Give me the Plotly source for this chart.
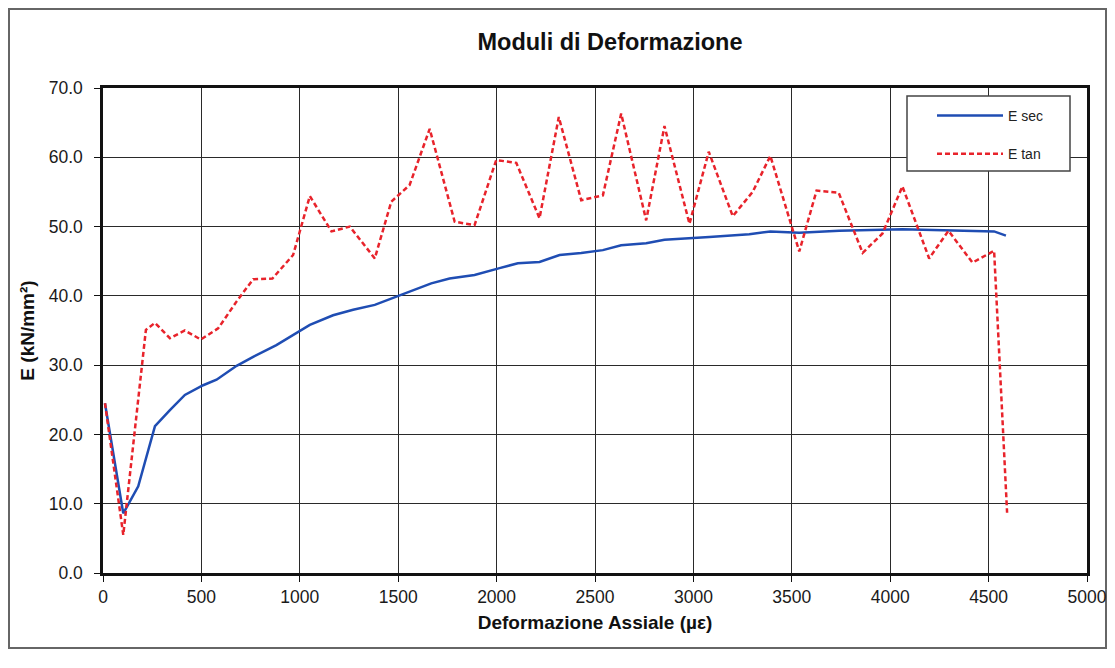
import plotly.graph_objects as go

# E tan (tangent modulus)
x_tan = [10, 103, 218, 264, 340, 416, 497, 585, 679, 763, 861, 966, 1051, 1161, 1254,
         1381, 1465, 1558, 1660, 1787, 1888, 1998, 2100, 2218, 2316, 2430, 2540, 2633,
         2760, 2853, 2980, 3078, 3200, 3301, 3391, 3538, 3626, 3738, 3860, 3961, 4062,
         4198, 4296, 4418, 4528, 4594]
e_tan = [24.5, 5.5, 35.1, 36.1, 33.9, 35.0, 33.7, 35.3, 39.2, 42.4, 42.5, 45.9, 54.4, 49.3, 50.0,
         45.4, 53.6, 56.0, 64.1, 50.7, 50.2, 59.6, 59.2, 51.2, 65.8, 53.8, 54.5, 66.3,
         50.9, 64.5, 50.4, 60.8, 51.5, 55.0, 60.2, 46.4, 55.2, 54.9, 46.2, 49.0, 55.8,
         45.4, 49.4, 44.8, 46.5, 8.7]

# E sec (secant modulus)
x_sec = [10, 103, 179, 264, 340, 416, 509, 577, 679, 763, 881, 966, 1051, 1169, 1271,
         1381, 1508, 1668, 1761, 1888, 2015, 2108, 2218, 2320, 2430, 2540, 2633, 2760,
         2853, 2980, 3081, 3284, 3391, 3538, 3741, 4062, 4296, 4528, 4588]
e_sec = [24.5, 8.6, 12.5, 21.2, 23.5, 25.7, 27.1, 27.9, 29.9, 31.2, 32.9, 34.3, 35.8, 37.2, 38.0,
         38.7, 40.1, 41.8, 42.5, 43.0, 44.0, 44.7, 44.9, 45.9, 46.2, 46.6, 47.3, 47.6,
         48.1, 48.3, 48.5, 48.9, 49.3, 49.1, 49.4, 49.6, 49.4, 49.3, 48.7]

x_ticks = [0, 500, 1000, 1500, 2000, 2500, 3000, 3500, 4000, 4500, 5000]
y_ticks = [0, 10, 20, 30, 40, 50, 60, 70]

FONT = "Liberation Sans, Arial, sans-serif"
GRID = "#2a2a2a"

fig = go.Figure()
fig.add_trace(go.Scatter(x=x_sec, y=e_sec, mode="lines", name="E sec",
                         line=dict(color="#1f4db3", width=2.5), legendgroup="a"))
fig.add_trace(go.Scatter(x=x_tan, y=e_tan, mode="lines", name="E tan",
                         line=dict(color="#e8232b", width=2.5, dash="5px,3px"), legendgroup="b"))

# page body has an 8px margin; positions below are in window pixels
OFF = 8
W, H = 1115 - 2 * OFF, 668 - 2 * OFF
L, T = 103 - OFF, 88 - OFF
R = W - (1087 - OFF)
B = H - (573 - OFF)
pw, ph = W - L - R, H - T - B

def px(xp):
    return (xp - OFF - L) / pw

def py(yp):
    return (H - B - (yp - OFF)) / ph

fig.update_layout(
    width=W, height=H,
    margin=dict(l=L, r=R, t=T, b=B, autoexpand=False),
    paper_bgcolor="white", plot_bgcolor="white",
    font=dict(family=FONT, color="#1a1a1a"),
    title=dict(text="<b>Moduli di Deformazione</b>", xref="paper", x=px(610), xanchor="center",
               yref="container", y=1 - (42 - OFF) / H, yanchor="middle",
               font=dict(size=23.5, family=FONT, color="#111")),
    xaxis=dict(range=[0, 5000], tickvals=x_ticks, ticktext=[str(v) for v in x_ticks],
               automargin=False,
               showgrid=True, gridcolor=GRID, gridwidth=1.3, zeroline=False,
               showline=True, linecolor="#111", linewidth=2.5, mirror=True,
               ticks="outside", ticklen=6, tickcolor="#111",
               tickfont=dict(size=17.5, family=FONT, color="#1a1a1a"),
               title=dict(text="<b>Deformazione Assiale (µε)</b>", standoff=10,
                          font=dict(size=19, family=FONT, color="#111"))),
    yaxis=dict(range=[0, 70], tickvals=y_ticks, ticktext=[f"{v:.1f}" for v in y_ticks],
               automargin=False,
               showgrid=True, gridcolor=GRID, gridwidth=1.3, zeroline=False,
               showline=True, linecolor="#111", linewidth=2.5, mirror=True,
               ticks="outside", ticklen=6, tickcolor="#111", ticklabelstandoff=8,
               tickfont=dict(size=17.5, family=FONT, color="#1a1a1a"),
               title=dict(text="<b>E (kN/mm²)</b>", standoff=10,
                          font=dict(size=19, family=FONT, color="#111"))),
    legend=dict(x=px(932), y=py(100), xanchor="left", yanchor="top",
                bgcolor="rgba(0,0,0,0)", borderwidth=0,
                font=dict(size=14, family=FONT, color="#222"),
                traceorder="grouped", tracegroupgap=17, itemwidth=66),
    showlegend=True,
    shapes=[
        dict(type="rect", xref="paper", yref="paper",
             x0=px(9), x1=px(1106), y0=py(648), y1=py(9),
             line=dict(color="#666", width=2), fillcolor="rgba(0,0,0,0)", layer="below"),
        dict(type="rect", xref="paper", yref="paper",
             x0=px(907), x1=px(1070), y0=py(171), y1=py(96),
             line=dict(color="#444", width=1.5), fillcolor="white", layer="above"),
    ],
)

fig.write_html("out.html")
